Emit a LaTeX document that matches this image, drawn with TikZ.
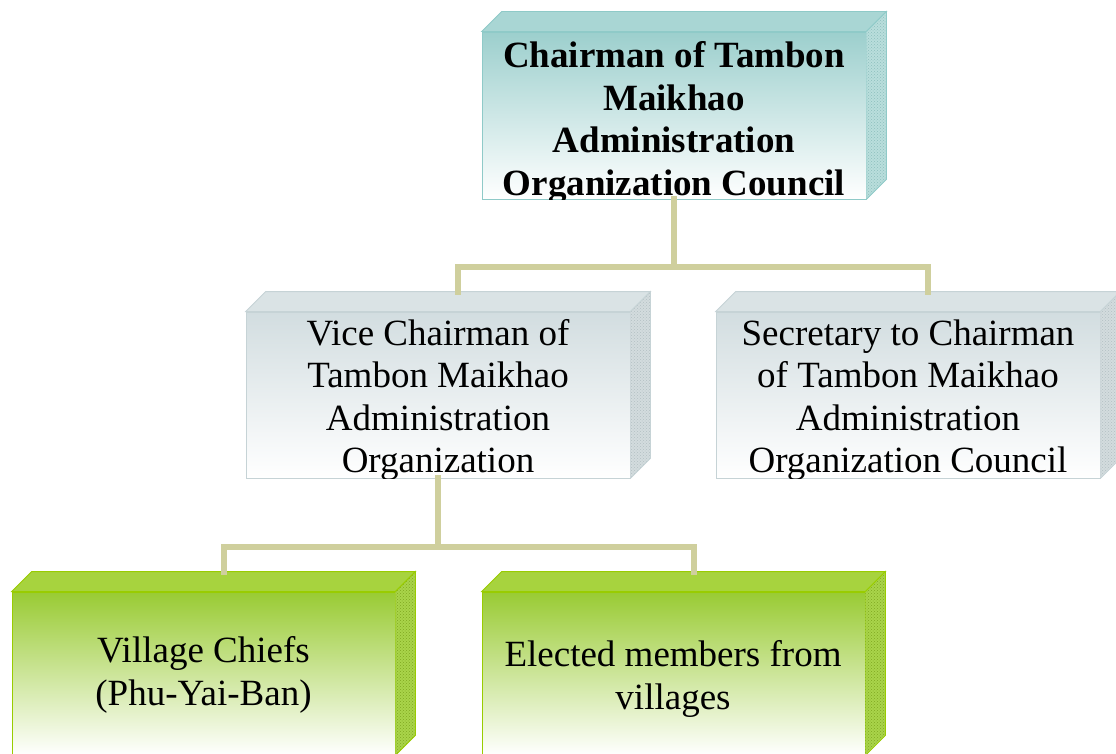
\documentclass[tikz,border=0pt]{standalone}
\usepackage{fontspec}
\setmainfont{Liberation Serif}
\usetikzlibrary{calc,patterns}

\definecolor{linkcol}{HTML}{CFCF9D}
% teal set
\definecolor{tealface}{HTML}{9CCFCD}
\definecolor{tealtop}{HTML}{A9D6D4}
\definecolor{tealside}{HTML}{B9DEDC}
\definecolor{tealline}{HTML}{8FCAC8}
\definecolor{tealdot}{HTML}{8CBFBD}
% grey set
\definecolor{greyface}{HTML}{D2DDE0}
\definecolor{greytop}{HTML}{DAE3E5}
\definecolor{greyside}{HTML}{D3DCDE}
\definecolor{greyline}{HTML}{C6D3D6}
\definecolor{greydot}{HTML}{B3BFC2}
% green set
\definecolor{greenface}{HTML}{99CB33}
\definecolor{greentop}{HTML}{A7D33E}
\definecolor{greenside}{HTML}{A9D44A}
\definecolor{greenline}{HTML}{99CC00}
\definecolor{greendot}{HTML}{7FA820}

\tikzset{
  front/.style={draw=#1line, line width=0.8pt, top color=#1face,
    middle color=#1face!40!white, bottom color=white, inner sep=0pt},
  boxtext/.style={align=center, inner sep=0pt, font=\fontsize{37}{42.5}\selectfont},
  link/.style={draw=linkcol, line width=6pt, line cap=rect},
}

% top and side faces of a block whose front face is node #1
\newcommand\orgcube[2]{%
  \filldraw[fill=#2top, draw=#2line, line width=0.8pt]
    (#1.north west) -- ++(20,-20) -- ($(#1.north east)+(20,-20)$) -- (#1.north east) -- cycle;
  \fill[#2side]
    (#1.north east) -- ++(20,-20) -- ($(#1.south east)+(20,-20)$) -- (#1.south east) -- cycle;
  \fill[pattern=crosshatch dots, pattern color=#2dot]
    (#1.north east) -- ++(20,-20) -- ($(#1.south east)+(20,-20)$) -- (#1.south east) -- cycle;
  \draw[#2line, line width=0.8pt]
    (#1.north east) -- ++(20,-20) -- ($(#1.south east)+(20,-20)$) -- (#1.south east);
  \coordinate (#1-in) at ($(#1.north)+(20,-20)$);
}

\begin{document}
\begin{tikzpicture}[x=1pt, y=-1pt]
\useasboundingbox (0,0) rectangle (1116,754);

% front faces
\node[front=teal, minimum width=384pt, minimum height=167pt] (chair) at (674,115.5) {};
\node[front=grey, minimum width=384pt, minimum height=166pt] (vice) at (438,395) {};
\node[front=grey, minimum width=384pt, minimum height=166pt] (secr) at (908,395) {};
\node[front=green, minimum width=383pt, minimum height=163pt] (chief) at (203.5,673.5) {};
\node[front=green, minimum width=383pt, minimum height=163pt] (elect) at (673.5,673.5) {};

\orgcube{chair}{teal}
\orgcube{vice}{grey}
\orgcube{secr}{grey}
\orgcube{chief}{green}
\orgcube{elect}{green}

% labels (anchored on the last line), cut off at the lower edge of each front face
\begin{scope}
  \clip (chair.south west) rectangle (chair.north east);
  \node[boxtext, font=\fontsize{37}{42.5}\selectfont\bfseries, anchor=base] (chair-t) at (674,195.5)
    {Chairman of Tambon\\Maikhao\\Administration\\Organization Council};
\end{scope}
\begin{scope}
  \clip (vice.south west) rectangle (vice.north east);
  \node[boxtext, anchor=base] (vice-t) at (438,472.5)
    {Vice Chairman of\\Tambon Maikhao\\Administration\\Organization};
\end{scope}
\begin{scope}
  \clip (secr.south west) rectangle (secr.north east);
  \node[boxtext, anchor=base] (secr-t) at (908,472.5)
    {Secretary to Chairman\\of Tambon Maikhao\\Administration\\Organization Council};
\end{scope}
\node[boxtext, anchor=base] (chief-t) at (203.5,705) {Village Chiefs\\(Phu-Yai-Ban)};
\node[boxtext, anchor=base] (elect-t) at (673,709) {Elected members from\\villages};

% connectors
\draw[link] (chair.south) |- ($(chair.south)+(0,68)$) coordinate (j1);
\draw[link] (vice-in) |- (j1) -| (secr-in);
\draw[link] (vice.south) -- ($(vice.south)+(0,69)$) coordinate (j2);
\draw[link] (chief-in) |- (j2) -| (elect-in);
\end{tikzpicture}
\end{document}
